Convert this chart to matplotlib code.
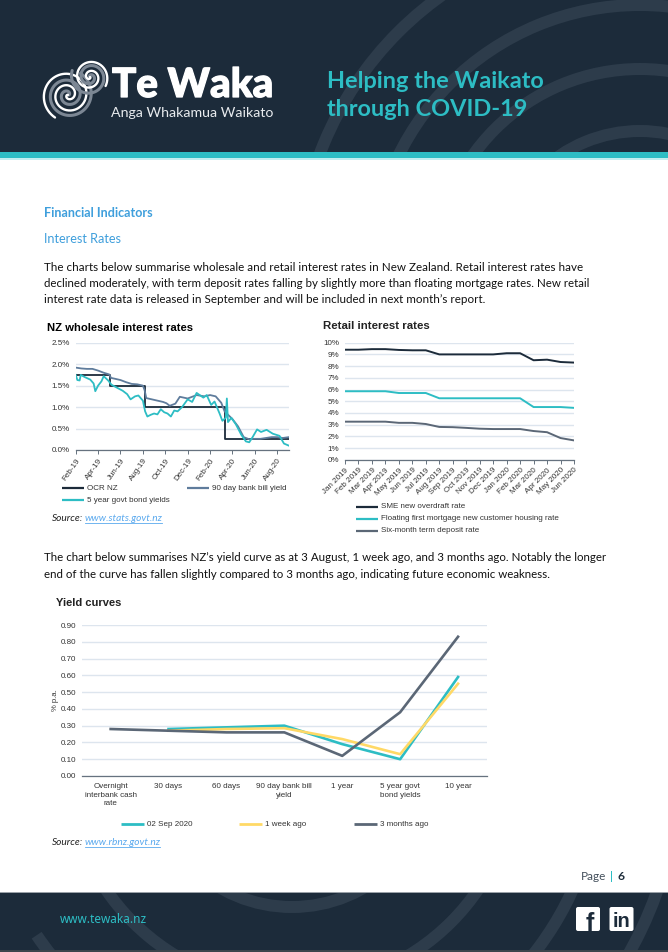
import numpy as np
import matplotlib
matplotlib.use("Agg")
import matplotlib.pyplot as plt
import matplotlib.patheffects as pe
from matplotlib.patches import Rectangle, Wedge, FancyBboxPatch

# ===== Chart data =====
ocr_months = [0, 3.1, 6.15, 13.35, 19.05]
ocr_rates = [1.75, 1.5, 1.0, 0.25, 0.25]

bill_months = [0, 0.5, 1, 1.5, 2, 2.5, 3, 3.15, 3.5, 4, 4.5, 5, 5.5, 6, 6.15, 6.3, 6.8, 7.3, 7.8, 8.1, 8.4,
               8.9, 9.3, 10, 10.8, 11.5, 12, 12.5, 13, 13.3, 14, 14.5, 15, 15.5, 16, 16.5, 17, 17.5, 18, 18.5, 19.05]
bill_rates = [1.92, 1.90, 1.89, 1.89, 1.85, 1.80, 1.76, 1.68, 1.66, 1.63, 1.58, 1.54, 1.53, 1.50, 1.40, 1.21,
              1.18, 1.15, 1.12, 1.09, 1.03, 1.08, 1.24, 1.20, 1.28, 1.25, 1.28, 1.25, 1.10, 0.90, 0.72, 0.55,
              0.30, 0.25, 0.26, 0.26, 0.28, 0.30, 0.30, 0.28, 0.30]

bond_months = [0, 0.15, 0.35, 0.45, 0.8, 1.3, 1.6, 1.75, 2, 2.3, 2.5, 2.9, 3.2, 3.7, 4.2, 4.6, 4.9, 5.3, 5.6,
               6, 6.2, 6.4, 6.7, 7, 7.3, 7.6, 7.9, 8.2, 8.5, 8.8, 9.1, 9.5, 10, 10.4, 10.8, 11.4, 11.7, 12.1,
               12.4, 12.85, 13.1, 13.4, 13.5, 13.6, 13.9, 14.3, 14.8, 15.2, 15.5, 15.8, 16.2, 16.55, 17.05,
               17.6, 18.2, 18.6, 19.05]
bond_rates = [1.75, 1.63, 1.62, 1.75, 1.70, 1.64, 1.55, 1.37, 1.50, 1.60, 1.72, 1.62, 1.52, 1.45, 1.38, 1.30,
              1.18, 1.25, 1.27, 1.15, 0.90, 0.78, 0.82, 0.85, 0.83, 0.95, 0.88, 0.85, 0.78, 0.92, 0.90, 1.00,
              1.18, 1.12, 1.33, 1.22, 1.28, 1.05, 1.13, 0.85, 0.68, 0.75, 1.20, 0.65, 0.75, 0.60, 0.35, 0.20,
              0.18, 0.30, 0.48, 0.42, 0.47, 0.38, 0.33, 0.15, 0.10]

wholesale_ticks = [0, 2, 4, 6, 8, 10, 12, 14, 16, 18]
wholesale_labels = ["Feb-19", "Apr-19", "Jun-19", "Aug-19", "Oct-19", "Dec-19", "Feb-20", "Apr-20", "Jun-20", "Aug-20"]

retail_labels = ["Jan 2019", "Feb 2019", "Mar 2019", "Apr 2019", "May 2019", "Jun 2019", "Jul 2019", "Aug 2019",
                 "Sep 2019", "Oct 2019", "Nov 2019", "Dec 2019", "Jan 2020", "Feb 2020", "Mar 2020", "Apr 2020",
                 "May 2020", "Jun 2020"]
sme_rate = [9.4, 9.4, 9.45, 9.45, 9.38, 9.35, 9.35, 9.0, 9.0, 9.0, 9.0, 9.0, 9.1, 9.1, 8.5, 8.55, 8.35, 8.3]
floating_rate = [5.85, 5.85, 5.85, 5.85, 5.7, 5.7, 5.7, 5.25, 5.25, 5.25, 5.25, 5.25, 5.25, 5.25, 4.5, 4.5, 4.5, 4.43]
term_rate = [3.25, 3.25, 3.25, 3.25, 3.15, 3.15, 3.05, 2.8, 2.78, 2.72, 2.65, 2.62, 2.62, 2.62, 2.45, 2.35, 1.85, 1.65]

curve_labels = ["Overnight\ninterbank cash\nrate", "30 days", "60 days", "90 day bank bill\nyield", "1 year",
                "5 year govt\nbond yields", "10 year"]
curve_now = [np.nan, 0.28, 0.29, 0.30, 0.19, 0.10, 0.59]
curve_week = [np.nan, 0.27, 0.28, 0.285, 0.22, 0.13, 0.55]
curve_3m = [0.28, 0.27, 0.26, 0.26, 0.12, 0.38, 0.83]

# ===== Colours =====
NAVY = "#1c2b3a"
BAND = "#2d3c4b"
TEAL = "#2dbdc4"
BILL = "#5f7c9c"
SLATE = "#5b6776"
YELLOW = "#ffd966"
GRID = "#dde5ee"
AXIS = "#66727f"
TICK = "#333333"
BLUE = "#3f9fdc"
LINK = "#5aa9ee"

W, H = 668, 952
CHART_FONT = "Liberation Sans"
BODY_FONT = "Lato"

fig = plt.figure(figsize=(W / 100, H / 100), dpi=100, facecolor="white")

# Page furniture in pixel coordinates
page = fig.add_axes([0, 0, 1, 1], zorder=0)
page.set_xlim(0, W)
page.set_ylim(H, 0)
page.axis("off")


def put(x, y, s, size, color="#111111", weight="normal", family=BODY_FONT, style="normal", ha="left", va="baseline"):
    return page.text(x, y, s, fontsize=size, color=color, fontweight=weight, family=family, style=style, ha=ha, va=va)


# Header
header = Rectangle((0, 0), W, 152, fc=NAVY, ec="none")
page.add_patch(header)
for r in [143, 205, 269, 342]:
    w = Wedge((640, 274), r + 6, 0, 360, width=12, fc=BAND, ec="none")
    page.add_patch(w)
    w.set_clip_path(header)
page.add_patch(Rectangle((0, 152), W, 6, fc=TEAL, ec="none"))
page.add_patch(Rectangle((0, 158), W, 1.5, fc="#c4eef0", ec="none"))


# Logo spirals
def spiral(cx, cy, r0, turns, end_deg, color, lw, sign):
    t = np.linspace(0, turns * 2 * np.pi, 300)
    r = r0 * t / t[-1]
    ang = np.radians(end_deg) + sign * (t - t[-1])
    page.plot(cx + r * np.cos(ang), cy + r * np.sin(ang), color=color, lw=lw, solid_capstyle="round")


spiral(68, 95, 25, 2.25, 300, "#7c8794", 2.2, -1)
spiral(68, 95, 26, 2.25, 120, "white", 1.7, -1)
spiral(90, 77, 19, 2.0, 200, "#7c8794", 2.2, 1)
spiral(90, 77, 18, 2.0, 30, "white", 1.7, 1)

logo = put(112, 97, "Te Waka", 29, color="white", weight="black")
logo.set_path_effects([pe.withStroke(linewidth=0.9, foreground="white")])
put(111, 117, "Anga Whakamua Waikato", 10.2, color="#e8ebee")
put(327, 88, "Helping the Waikato", 16.9, color=TEAL, weight="bold")
put(327, 116, "through COVID-19", 16.9, color=TEAL, weight="bold")

# Body text
put(44, 217, "Financial Indicators", 9.1, color=BLUE, weight="bold")
put(44, 243, "Interest Rates", 9.1, color=BLUE)
put(44, 271, "The charts below summarise wholesale and retail interest rates in New Zealand. Retail interest rates have", 8.33)
put(44, 287, "declined moderately, with term deposit rates falling by slightly more than floating mortgage rates. New retail", 8.31)
put(44, 303, "interest rate data is released in September and will be included in next month\u2019s report.", 8.33)
put(44, 561, "The chart below summarises NZ\u2019s yield curve as at 3 August, 1 week ago, and 3 months ago. Notably the longer", 8.24)
put(44, 578, "end of the curve has fallen slightly compared to 3 months ago, indicating future economic weakness.", 8.3)

# Chart titles
put(47, 331, "NZ wholesale interest rates", 8.1, color="black", weight="bold", family=CHART_FONT)
put(323, 329, "Retail interest rates", 8.2, color="#222222", weight="bold", family=CHART_FONT)
put(56, 606, "Yield curves", 8.0, color="#222222", weight="bold", family=CHART_FONT)


# Source lines
def source(y, url, x_end):
    put(52, y, "Source:", 7.3, color="#222222", style="italic")
    put(85, y, url, 7.3, color=LINK, style="italic")
    page.plot([85, x_end], [y + 1.5, y + 1.5], color=LINK, lw=0.6)


source(521, "www.stats.govt.nz", 162)
source(845, "www.rbnz.govt.nz", 160)


# Legends
def key(x0, x1, y, label, color, lw=1.6):
    page.plot([x0, x1], [y, y], color=color, lw=lw, solid_capstyle="butt")
    put(x1 + 3, y, label, 5.8, color=TICK, family=CHART_FONT, va="center")


key(62, 84, 488, "OCR NZ", NAVY)
key(187, 209, 488, "90 day bank bill yield", BILL)
key(62, 84, 500, "5 year govt bond yields", TEAL)
key(356, 378, 507, "SME new overdraft rate", NAVY)
key(356, 378, 519, "Floating first mortgage new customer housing rate", TEAL)
key(356, 378, 531, "Six-month term deposit rate", SLATE)
key(121, 144, 824, "02 Sep 2020", TEAL, lw=2)
key(239, 262, 824, "1 week ago", YELLOW, lw=2)
key(354, 377, 824, "3 months ago", SLATE, lw=2)

# Footer
page.text(581, 880, "Page", fontsize=8.5, color="#44505c", family=BODY_FONT, va="baseline")
page.add_patch(Rectangle((611, 871), 1.4, 11, fc=TEAL, ec="none"))
page.text(617, 880, "6", fontsize=8.7, color=NAVY, fontweight="bold", family=BODY_FONT, va="baseline")
footer = Rectangle((0, 893), W, 57, fc=NAVY, ec="none")
page.add_patch(footer)
page.add_patch(Rectangle((0, 892), W, 1.2, fc="#9aa1a8", ec="none"))
page.add_patch(Rectangle((0, 950), W, 2, fc="#3c444c", ec="none"))
for r, t2 in [(144, 180), (225, 180), (308, 146), (387, 90)]:
    w = Wedge((292, 763), r + 6, 0, t2, width=12, fc=BAND, ec="none")
    page.add_patch(w)
    w.set_clip_path(footer)
put(60, 923, "www.tewaka.nz", 8.5, color=TEAL, family="Noto Sans")
for x0, label, size in [(576, "f", 18), (609.5, "in", 14.5)]:
    page.add_patch(FancyBboxPatch((x0 + 1, 908), 22, 22, boxstyle="round,pad=1,rounding_size=2", fc="white", ec="none"))
    page.text(x0 + 13.5 if label == "f" else x0 + 12, 931 if label == "f" else 927, label, fontsize=size, color=NAVY,
              fontweight="bold", family=CHART_FONT, ha="center", va="baseline")


def chart_axes(left, right, top, bottom):
    ax = fig.add_axes([left / W, 1 - bottom / H, (right - left) / W, (bottom - top) / H], zorder=2)
    ax.patch.set_alpha(0)
    for side in ["top", "right", "left"]:
        ax.spines[side].set_visible(False)
    ax.spines["bottom"].set_color(AXIS)
    ax.spines["bottom"].set_linewidth(0.9)
    ax.grid(axis="y", color=GRID, lw=1.0)
    ax.set_axisbelow(True)
    ax.tick_params(axis="y", length=0, pad=4, labelsize=5.8, labelcolor=TICK)
    ax.tick_params(axis="x", labelsize=5.8, labelcolor=TICK, color=AXIS, width=0.7, length=3, pad=2)
    return ax


def style_tick_fonts(ax):
    for lab in ax.get_xticklabels() + ax.get_yticklabels():
        lab.set_family(CHART_FONT)


# ===== Wholesale rates =====
ax1 = chart_axes(75.7, 289, 342.7, 450)
ax1.plot(ocr_months, ocr_rates, color=NAVY, lw=1.3, drawstyle="steps-post")
ax1.plot(bill_months, bill_rates, color=BILL, lw=1.3)
ax1.plot(bond_months, bond_rates, color=TEAL, lw=1.3)
ax1.set_xlim(0, 19.05)
ax1.set_ylim(0, 2.5)
ax1.set_yticks([0, 0.5, 1.0, 1.5, 2.0, 2.5])
ax1.set_yticklabels(["0.0%", "0.5%", "1.0%", "1.5%", "2.0%", "2.5%"])
ax1.set_xticks(wholesale_ticks)
ax1.set_xticklabels(wholesale_labels, rotation=55, ha="right", rotation_mode="anchor")
style_tick_fonts(ax1)

# ===== Retail rates =====
ax2 = chart_axes(345, 574, 342.7, 459.7)
ax2.plot(sme_rate, color=NAVY, lw=1.4)
ax2.plot(floating_rate, color=TEAL, lw=1.4)
ax2.plot(term_rate, color=SLATE, lw=1.4)
ax2.set_xlim(0, 17)
ax2.set_ylim(0, 10)
ax2.set_yticks(range(0, 11))
ax2.set_yticklabels([f"{v}%" for v in range(0, 11)])
ax2.set_xticks(range(len(retail_labels)))
ax2.set_xticklabels(retail_labels, rotation=45, ha="right", rotation_mode="anchor")
style_tick_fonts(ax2)

# ===== Yield curves =====
ax3 = chart_axes(81.7, 487, 625, 776)
ax3.plot(curve_now, color=TEAL, lw=1.9)
ax3.plot(curve_week, color=YELLOW, lw=1.9)
ax3.plot(curve_3m, color=SLATE, lw=1.9)
ax3.set_xlim(-0.5, 6.5)
ax3.set_ylim(0, 0.9)
ax3.set_yticks(np.arange(0, 10) / 10)
ax3.set_yticklabels([f"{v / 10:.2f}" for v in range(0, 10)])
ax3.set_xticks(range(len(curve_labels)))
ax3.set_xticklabels(curve_labels, linespacing=1.35)
ax3.tick_params(axis="x", length=0, pad=5)
ax3.set_ylabel("% p.a.", fontsize=5.6, color=TICK, family=CHART_FONT, labelpad=1)
style_tick_fonts(ax3)

fig.savefig("out.png", dpi=100)
